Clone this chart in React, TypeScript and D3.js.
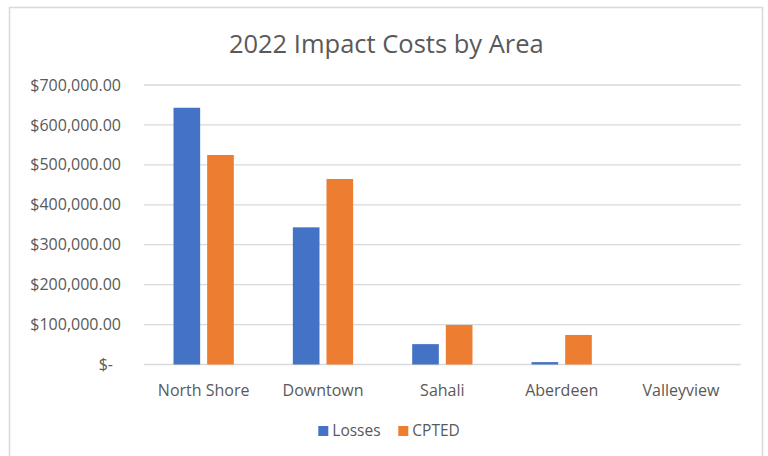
import React, { useEffect, useRef } from 'react';
import * as d3 from 'd3';

const areas = ['North Shore', 'Downtown', 'Sahali', 'Aberdeen', 'Valleyview'];
const seriesNames = ['Losses', 'CPTED'];
const losses = [643000, 343500, 51000, 6000, 0];
const cpted = [524700, 464600, 99000, 74000, 0];
const yTicks = [0, 100000, 200000, 300000, 400000, 500000, 600000, 700000];

const colors = ['#4472C4', '#ED7D31'];
const font = '"Open Sans", "Noto Sans", sans-serif';

function App() {
  const svgRef = useRef<SVGSVGElement>(null);

  useEffect(() => {
    const width = 768;
    const height = 456;
    const plot = { left: 144, right: 740.7, top: 85, bottom: 364.5 };

    const svg = d3.select(svgRef.current);
    svg.selectAll('*').remove();

    // chart frame
    svg.append('rect')
      .attr('x', 0).attr('y', 0).attr('width', width).attr('height', height)
      .attr('fill', '#fff');
    svg.append('rect')
      .attr('x', 9.5).attr('y', 7.5).attr('width', 753).attr('height', 470)
      .attr('fill', '#fff')
      .attr('stroke', '#D9D9D9')
      .attr('stroke-width', 1.5);

    const x = d3.scaleBand().domain(areas).range([plot.left, plot.right]);
    const x1 = d3.scaleBand().domain(seriesNames).range([29.5, 89.8]).paddingInner(0.208);
    const y = d3.scaleLinear().domain([0, 700000]).range([plot.bottom, plot.top]);

    // gridlines
    svg.append('g')
      .selectAll('line')
      .data(yTicks)
      .join('line')
      .attr('x1', plot.left)
      .attr('x2', plot.right)
      .attr('y1', d => y(d))
      .attr('y2', d => y(d))
      .attr('stroke', '#D9D9D9')
      .attr('stroke-width', 1.3);

    // y labels, accounting style
    const fmt = d3.format(',.2f');
    svg.append('g')
      .selectAll('text')
      .data(yTicks)
      .join('text')
      .attr('x', d => (d === 0 ? 113 : 121))
      .attr('y', d => y(d))
      .attr('dy', '0.35em')
      .attr('text-anchor', 'end')
      .style('font-family', font)
      .style('font-size', '16px')
      .attr('fill', '#595959')
      .text(d => (d === 0 ? '$-' : '$' + fmt(d)));

    // bars
    const rows = areas.map((area, i) => ({ area, values: [losses[i], cpted[i]] }));
    const groups = svg.append('g')
      .selectAll('g')
      .data(rows)
      .join('g')
      .attr('transform', d => `translate(${x(d.area)},0)`);

    groups.selectAll('rect')
      .data(d => d.values.map((v, j) => ({ name: seriesNames[j], v, j })))
      .join('rect')
      .attr('x', d => x1(d.name)!)
      .attr('width', x1.bandwidth())
      .attr('y', d => y(d.v))
      .attr('height', d => y(0) - y(d.v))
      .attr('fill', d => colors[d.j]);

    // category labels
    svg.append('g')
      .selectAll('text')
      .data(areas)
      .join('text')
      .attr('x', d => x(d)! + x.bandwidth() / 2)
      .attr('y', 396)
      .attr('text-anchor', 'middle')
      .style('font-family', font)
      .style('font-size', '16px')
      .attr('fill', '#595959')
      .text(d => d);

    // title
    svg.append('text')
      .attr('x', 386.3)
      .attr('y', 53.3)
      .attr('text-anchor', 'middle')
      .style('font-family', font)
      .style('font-size', '25.5px')
      .attr('fill', '#595959')
      .text('2022 Impact Costs by Area');

    // legend
    const legendX = [318.3, 398.3];
    const legend = svg.append('g')
      .selectAll('g')
      .data(seriesNames)
      .join('g')
      .attr('transform', (d, i) => `translate(${legendX[i]},426)`);
    legend.append('rect')
      .attr('width', 10)
      .attr('height', 10)
      .attr('fill', (d, i) => colors[i]);
    legend.append('text')
      .attr('x', 14)
      .attr('y', 5)
      .attr('dy', '0.35em')
      .style('font-family', font)
      .style('font-size', '15.5px')
      .attr('fill', '#595959')
      .text(d => d);
  }, []);

  return (
    <svg
      ref={svgRef}
      width={768}
      height={456}
      style={{ position: 'fixed', left: 0, top: 0, display: 'block' }}
    />
  );
}

export default App;
